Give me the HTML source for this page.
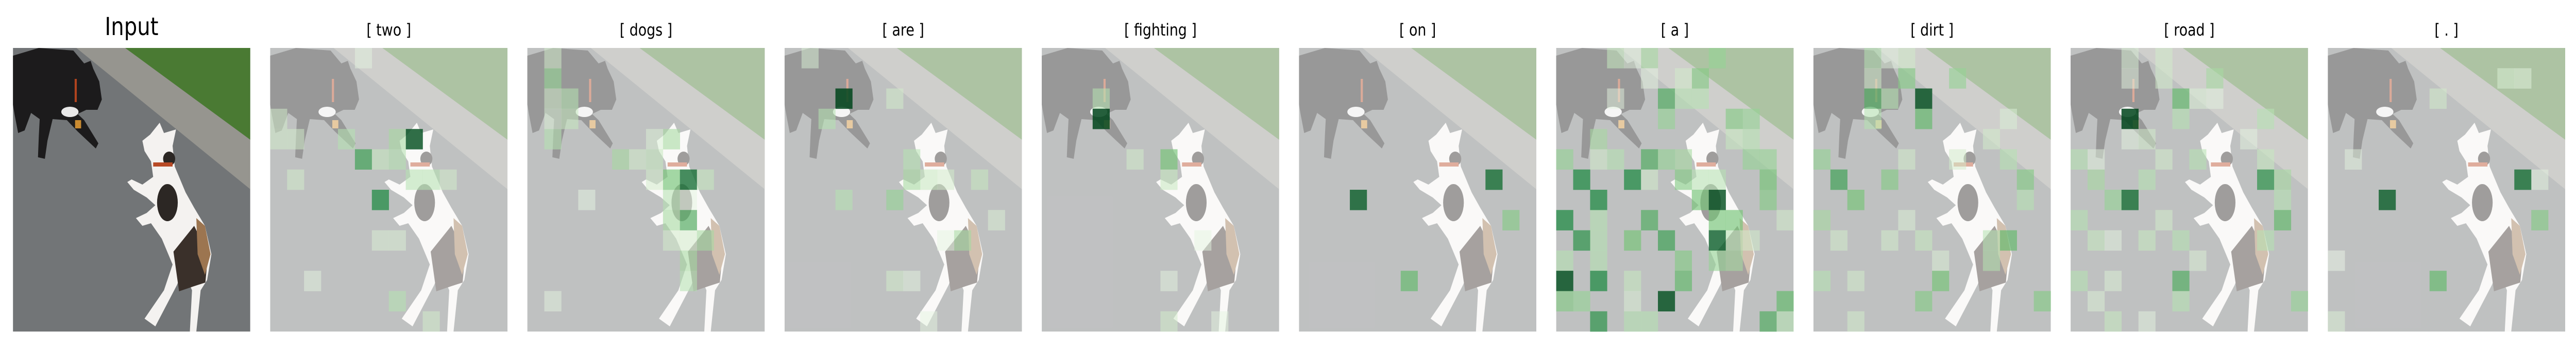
<!DOCTYPE html>
<html><head><meta charset="utf-8">
<style>
html,body{margin:0;padding:0;background:#fff;overflow:hidden;width:100%;height:100%;}
svg{display:block;width:100vw;height:100vh;}
text{font-family:"DejaVu Sans","Liberation Sans",sans-serif;fill:#000;}
</style></head>
<body>
<svg id="fig" viewBox="0 0 5970 673" preserveAspectRatio="none" xmlns="http://www.w3.org/2000/svg">
<defs>
<symbol id="photo" viewBox="0 0 550 550">
  <rect width="550" height="550" fill="#727577"/>
  <polygon points="147,0 550,0 550,274" fill="#96958f"/>
  <polygon points="260,0 550,0 550,178" fill="#4a7a33"/>
  <polygon points="0,15 60,0 140,5 165,30 180,25 186,40 200,65 206,100 196,120 170,120 150,128 165,140 198,185 192,195 150,162 125,140 92,138 80,180 74,215 58,212 60,170 62,138 42,126 27,160 12,165 4,130 0,110" fill="#1c1b1c"/>
  <ellipse cx="132" cy="124" rx="20" ry="10" fill="#e8e8e8"/>
  <rect x="143" y="60" width="5" height="45" fill="#b0431e"/>
  <rect x="144" y="140" width="14" height="16" fill="#c98a30"/>
  <polygon points="300,180 318,168 340,145 350,165 378,158 370,190 375,230 400,280 420,310 445,345 460,400 450,450 435,470 425,550 410,550 415,470 395,430 380,460 330,540 305,525 350,470 370,420 345,370 320,340 300,345 285,330 310,320 330,305 310,290 280,275 265,260 275,255 300,265 325,250 320,220 305,200" fill="#f4f2f0"/>
  <ellipse cx="358" cy="300" rx="24" ry="36" fill="#2c2724"/>
  <ellipse cx="362" cy="215" rx="14" ry="14" fill="#2c2724"/>
  <rect x="325" y="222" width="45" height="8" fill="#b84a26"/>
  <polygon points="372,395 420,345 452,400 446,455 420,462 385,472" fill="#3a302a"/>
  <polygon points="425,330 445,345 458,400 445,440 428,400" fill="#9c7550"/>
</symbol>
</defs>
<g id="panels"></g>
</svg>
<script>
const tokens = ["[ two ]","[ dogs ]","[ are ]","[ fighting ]","[ on ]","[ a ]","[ dirt ]","[ road ]","[ . ]"];
// attention cells per token: [col, row, value]
const attTwo = [[8,4,0.95],[5,5,0.65],[6,7,0.75],[4,4,0.3],[7,4,0.35],[6,5,0.25],[7,5,0.3],[8,6,0.3],[9,6,0.3],[10,6,0.2],[1,6,0.2],[0,3,0.2],[0,4,0.2],[1,4,0.2],[7,12,0.3],[9,13,0.2],[6,9,0.15],[7,9,0.15],[2,11,0.1],[5,0,0.1]];
const attDogs = [[1,1,0.4],[1,0,0.2],[2,2,0.3],[1,2,0.2],[2,3,0.25],[1,3,0.15],[1,4,0.3],[8,4,0.35],[7,4,0.15],[5,5,0.35],[6,5,0.2],[7,5,0.25],[8,6,0.5],[9,6,0.85],[10,6,0.25],[7,6,0.2],[8,7,0.3],[9,7,0.1],[3,7,0.08],[8,8,0.35],[9,8,0.6],[8,9,0.2],[10,9,0.35],[9,9,0.2],[9,10,0.35],[9,11,0.3],[1,12,0.1]];
const attAre = [[3,2,1.0],[6,2,0.2],[2,3,0.3],[1,0,0.15],[7,5,0.3],[7,6,0.35],[8,6,0.25],[9,6,0.2],[11,6,0.25],[3,7,0.3],[6,7,0.4],[12,8,0.15],[10,9,0.35],[9,9,0.1],[6,11,0.2],[7,11,0.1],[8,13,0.1]];
const attFighting = [[3,2,0.3],[3,3,1.0],[5,5,0.2],[7,5,0.5],[7,6,0.25],[9,9,0.1],[7,11,0.1],[7,13,0.2],[10,13,0.1]];
const attOn = [[3,7,0.9],[11,6,0.85],[12,8,0.45],[6,11,0.55]];
const attA = [[3,0,0.25],[5,0,0.35],[9,0,0.4],[4,0,0.1],[8,1,0.45],[7,1,0.2],[5,1,0.1],[6,2,0.6],[7,2,0.3],[8,2,0.3],[3,2,0.1],[6,3,0.4],[10,3,0.45],[11,3,0.4],[2,4,0.35],[10,4,0.25],[11,4,0.3],[0,5,0.4],[3,5,0.3],[5,5,0.6],[6,5,0.4],[7,5,0.35],[11,5,0.4],[12,5,0.4],[2,5,0.2],[1,6,0.75],[4,6,0.75],[7,6,0.45],[8,6,0.3],[9,6,0.3],[12,6,0.5],[5,6,0.2],[2,7,0.75],[8,7,0.5],[9,7,0.95],[12,7,0.45],[0,8,0.75],[2,8,0.3],[5,8,0.6],[9,8,0.5],[10,8,0.5],[13,8,0.2],[1,9,0.7],[2,9,0.3],[4,9,0.5],[6,9,0.65],[9,9,0.9],[10,9,0.3],[11,9,0.2],[0,10,0.3],[2,10,0.3],[7,10,0.45],[9,10,0.4],[10,10,0.35],[0,11,0.95],[2,11,0.75],[4,11,0.25],[7,11,0.55],[0,12,0.45],[1,12,0.4],[6,12,0.95],[13,12,0.55],[4,12,0.15],[2,13,0.7],[4,13,0.3],[5,13,0.3],[12,13,0.6],[13,13,0.3]];
const attDirt = [[3,0,0.3],[5,0,0.2],[4,0,0.1],[5,1,0.45],[8,1,0.4],[3,1,0.2],[3,2,0.6],[4,2,0.3],[6,2,0.95],[3,3,0.3],[6,3,0.55],[11,3,0.15],[10,4,0.2],[0,5,0.4],[5,5,0.2],[11,5,0.3],[8,5,0.2],[1,6,0.65],[4,6,0.45],[12,6,0.45],[2,7,0.5],[12,7,0.3],[0,8,0.35],[5,8,0.15],[1,9,0.2],[4,9,0.2],[6,9,0.25],[11,9,0.55],[10,9,0.3],[10,10,0.3],[7,10,0.15],[0,11,0.3],[2,11,0.2],[7,11,0.5],[6,12,0.45],[13,12,0.45],[2,13,0.2]];
const attRoad = [[3,0,0.15],[5,0,0.2],[5,1,0.2],[8,1,0.35],[3,1,0.1],[6,2,0.55],[7,2,0.15],[8,2,0.1],[3,3,1.0],[6,3,0.3],[11,3,0.3],[4,4,0.2],[3,4,0.1],[10,4,0.1],[0,5,0.3],[5,5,0.2],[7,5,0.3],[1,5,0.1],[11,5,0.25],[1,6,0.35],[4,6,0.3],[11,6,0.7],[12,6,0.35],[2,7,0.4],[3,7,0.85],[12,7,0.3],[0,8,0.3],[5,8,0.2],[12,8,0.55],[1,9,0.25],[4,9,0.25],[6,9,0.3],[11,9,0.3],[2,9,0.1],[7,10,0.15],[0,11,0.3],[6,11,0.6],[2,11,0.15],[1,12,0.15],[6,12,0.3],[13,12,0.4],[2,13,0.25],[4,13,0.1]];
const attDot = [[6,2,0.2],[10,1,0.15],[11,1,0.1],[3,7,0.9],[11,6,0.85],[12,6,0.1],[12,8,0.45],[6,11,0.55],[1,5,0.1],[0,13,0.15],[0,10,0.05]];
const attention = [attTwo,attDogs,attAre,attFighting,attOn,attA,attDirt,attRoad,attDot];

const NS="http://www.w3.org/2000/svg";
const gridN=14, panelSize=550, panelX0=30, panelStep=596.1, panelY=93;
const stops=[[247,252,245],[199,233,192],[116,196,118],[35,139,69],[0,68,27]];
function greens(v){
  v=Math.max(0,Math.min(1,v));
  const p=v*(stops.length-1), i=Math.min(stops.length-2,Math.floor(p)), t=p-i;
  const c=stops[i].map((a,k)=>Math.round(a+(stops[i+1][k]-a)*t));
  return `rgb(${c[0]},${c[1]},${c[2]})`;
}
const root=document.getElementById('panels');
function panelX(i){return panelX0+i*panelStep;}
function mk(tag,attrs){const e=document.createElementNS(NS,tag);for(const k in attrs)e.setAttribute(k,attrs[k]);return e;}

const inTitle=mk('text',{x:panelX(0)+panelSize/2,y:68,'text-anchor':'middle','font-size':48});
inTitle.textContent="Input";


root.appendChild(inTitle);
const inImg=mk('use',{href:'#photo',x:panelX(0),y:panelY,width:panelSize,height:panelSize});


root.appendChild(inImg);

const cell=panelSize/gridN;
tokens.forEach((tok,ti)=>{
  const x0=panelX(ti+1);
  const g=mk('g',{});
  
  
  const title=mk('text',{x:x0+panelSize/2,y:69,'text-anchor':'middle','font-size':32});
  title.textContent=tok;
  
  
  g.appendChild(title);
  const img=mk('use',{href:'#photo',x:x0,y:panelY,width:panelSize,height:panelSize});
  
  
  g.appendChild(img);
  const fade=mk('rect',{x:x0,y:panelY,width:panelSize,height:panelSize,fill:'#ffffff','fill-opacity':0.55});
  
  
  g.appendChild(fade);
  attention[ti].forEach(([c,r,v])=>{
    const rc=mk('rect',{x:x0+c*cell,y:panelY+r*cell,width:cell+0.3,height:cell+0.3,fill:greens(v),'fill-opacity':(0.45+0.4*v).toFixed(2)});
    
    
    g.appendChild(rc);
  });
  root.appendChild(g);
});
</script>
</body></html>
